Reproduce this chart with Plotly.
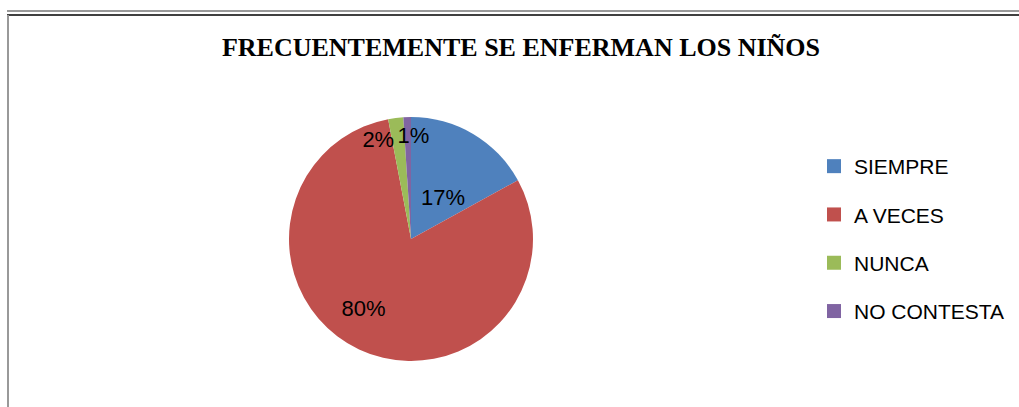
import plotly.graph_objects as go

title = "FRECUENTEMENTE SE ENFERMAN LOS NIÑOS"
categories = ["SIEMPRE", "A VECES", "NUNCA", "NO CONTESTA"]
values = [17, 80, 2, 1]
colors = ["#4F81BD", "#C0504D", "#9BBB59", "#8064A2"]

W, H = 1019, 407
NB = "\u00a0"
pct = "%{percent:.0%}"
label_templates = [
    NB + "<br>" + NB + "<br>" + pct + NB * 3,
    NB + "<br>" + pct + NB * 7,
    NB + "<br>" + pct + NB * 6,
    NB + "<br>" + NB * 2 + pct,
]

fig = go.Figure()
fig.add_trace(go.Pie(
    labels=categories,
    values=values,
    sort=False,
    direction="clockwise",
    rotation=0,
    marker=dict(colors=colors, line=dict(width=0)),
    texttemplate=label_templates,
    textposition="inside",
    insidetextorientation="horizontal",
    textfont=dict(family="Liberation Sans", size=22, color="black"),
    insidetextfont=dict(family="Liberation Sans", size=22, color="black"),
    showlegend=False,
    hoverinfo="skip",
    domain=dict(x=[288 / W, 534 / W], y=[1 - 361 / H, 1 - 117 / H]),
))

for i, (cat, col) in enumerate(zip(categories, colors)):
    fig.add_trace(go.Scatter(
        x=[None], y=[None], mode="markers", name=cat,
        legendgroup=f"g{i}",
        marker=dict(symbol="square", size=14, color=col),
        hoverinfo="skip",
    ))

fig.update_layout(
    width=W, height=H,
    margin=dict(l=0, r=0, t=0, b=0),
    paper_bgcolor="white", plot_bgcolor="white",
    uniformtext=dict(minsize=22, mode="show"),
    xaxis=dict(visible=False), yaxis=dict(visible=False),
    title=dict(text=f"<b>{title}</b>", x=521 / W, y=1 - 47 / H,
               xanchor="center", yanchor="middle",
               font=dict(family="Liberation Serif", size=26, color="black")),
    legend=dict(x=814 / W, y=1 - 146 / H, xanchor="left", yanchor="top",
                font=dict(family="Liberation Sans", size=21, color="black"),
                tracegroupgap=18, bgcolor="rgba(0,0,0,0)"),
    shapes=[
        dict(type="line", xref="paper", yref="paper", x0=7 / W, x1=1, y0=1 - 11 / H, y1=1 - 11 / H,
             line=dict(color="#999999", width=2)),
        dict(type="line", xref="paper", yref="paper", x0=7 / W, x1=1, y0=1 - 15 / H, y1=1 - 15 / H,
             line=dict(color="black", width=1.5)),
        dict(type="line", xref="paper", yref="paper", x0=8 / W, x1=8 / W, y0=0, y1=1 - 15 / H,
             line=dict(color="#999999", width=2)),
    ],
)

fig.write_html("out.html", config={"displayModeBar": False},
               post_script="document.body.style.margin='0';")
